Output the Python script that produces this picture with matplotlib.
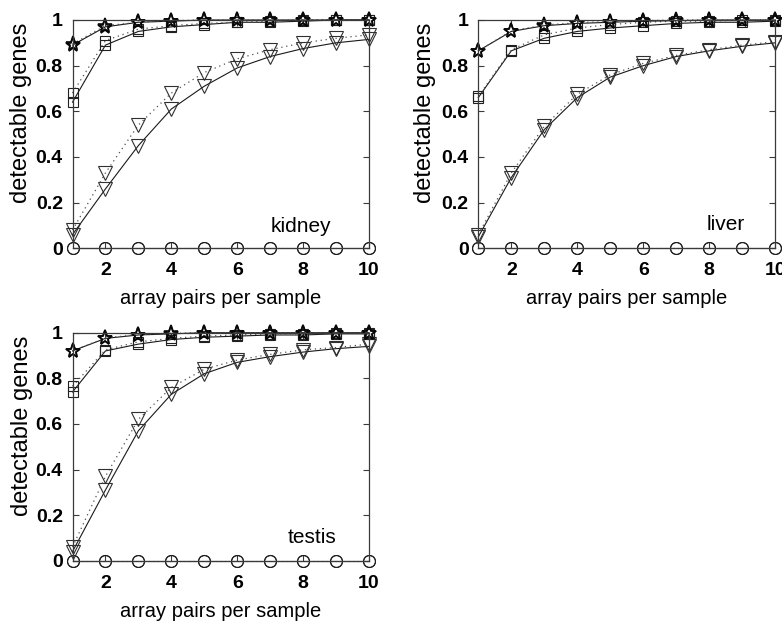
import matplotlib
matplotlib.use("Agg")
import matplotlib.pyplot as plt

plt.rcParams['font.family'] = ['Liberation Sans', 'DejaVu Sans']

x = [1, 2, 3, 4, 5, 6, 7, 8, 9, 10]

kidney_star_solid = [0.89, 0.97, 0.99, 0.995, 1.0, 1.0, 1.0, 1.0, 1.0, 1.0]
kidney_star_dot = [0.895, 0.975, 0.99, 0.997, 1.0, 1.0, 1.0, 1.0, 1.0, 1.0]
kidney_sq_solid = [0.64, 0.89, 0.95, 0.97, 0.98, 0.99, 0.99, 0.995, 1.0, 1.0]
kidney_sq_dot = [0.68, 0.91, 0.96, 0.975, 0.985, 0.99, 0.995, 1.0, 1.0, 1.0]
kidney_tri_solid = [0.06, 0.26, 0.45, 0.61, 0.71, 0.79, 0.84, 0.875, 0.90, 0.915]
kidney_tri_dot = [0.08, 0.33, 0.54, 0.68, 0.77, 0.83, 0.87, 0.90, 0.92, 0.935]

liver_star_solid = [0.865, 0.95, 0.975, 0.985, 0.99, 0.995, 0.997, 1.0, 1.0, 1.0]
liver_star_dot = [0.865, 0.952, 0.978, 0.988, 0.993, 0.997, 1.0, 1.0, 1.0, 1.0]
liver_sq_solid = [0.66, 0.865, 0.92, 0.95, 0.965, 0.975, 0.985, 0.99, 0.99, 0.995]
liver_sq_dot = [0.665, 0.87, 0.935, 0.965, 0.98, 0.99, 0.995, 0.995, 1.0, 1.0]
liver_tri_solid = [0.05, 0.31, 0.52, 0.66, 0.75, 0.80, 0.84, 0.865, 0.885, 0.90]
liver_tri_dot = [0.06, 0.33, 0.535, 0.675, 0.76, 0.81, 0.845, 0.87, 0.89, 0.905]

testis_star_solid = [0.92, 0.975, 0.99, 0.995, 1.0, 1.0, 1.0, 1.0, 1.0, 1.0]
testis_star_dot = [0.92, 0.977, 0.992, 0.997, 1.0, 1.0, 1.0, 1.0, 1.0, 1.0]
testis_sq_solid = [0.74, 0.92, 0.95, 0.97, 0.98, 0.985, 0.99, 0.99, 0.995, 0.995]
testis_sq_dot = [0.765, 0.925, 0.96, 0.975, 0.985, 0.99, 0.995, 0.995, 1.0, 1.0]
testis_tri_solid = [0.04, 0.31, 0.57, 0.73, 0.82, 0.87, 0.895, 0.915, 0.93, 0.94]
testis_tri_dot = [0.06, 0.37, 0.62, 0.76, 0.84, 0.88, 0.905, 0.925, 0.935, 0.95]

zero_solid = [0.0] * 10
zero_dot = [0.0] * 10

panel_names = ["kidney", "liver", "testis"]
panel_label_pos = [(7.0, 0.073), (7.92, 0.08), (7.54, 0.076)]

xticks = [2, 4, 6, 8, 10]
yticks = [0, 0.2, 0.4, 0.6, 0.8, 1]
yticklabels = ["0", "0.2", "0.4", "0.6", "0.8", "1"]

panels = [
    (kidney_star_solid, kidney_star_dot, kidney_sq_solid, kidney_sq_dot, kidney_tri_solid, kidney_tri_dot),
    (liver_star_solid, liver_star_dot, liver_sq_solid, liver_sq_dot, liver_tri_solid, liver_tri_dot),
    (testis_star_solid, testis_star_dot, testis_sq_solid, testis_sq_dot, testis_tri_solid, testis_tri_dot),
]

W, H = 782, 624
fig = plt.figure(figsize=(W / 100, H / 100), dpi=100)
fig.patch.set_facecolor('white')

# axes boxes in pixels: left, top, right, bottom
boxes = [(72.5, 20.0, 369.0, 248.3), (478.3, 20.0, 775.3, 248.3), (72.5, 332.7, 369.0, 560.7)]
ylabel_x = [-0.175, -0.18, -0.171]
ylabel_y = [0.595, 0.595, 0.59]

spine_col = '#3a3a3a'
solid_col = '#1a1a1a'
dot_col = '#505050'

for i, (box, data) in enumerate(zip(boxes, panels)):
    l, t, r, b = box
    ax = fig.add_axes([l / W, 1 - b / H, (r - l) / W, (b - t) / H])
    ss, sd, qs, qd, ts, td = data
    common = dict(markerfacecolor='none', clip_on=False)
    ax.plot(x, zero_solid, '-', color=solid_col, lw=0.8, marker='o', ms=8.6,
            markeredgecolor='#202020', markeredgewidth=0.8, **common)
    ax.plot(x, zero_dot, linestyle=(0, (1, 3)), color=dot_col, lw=0.8, marker='o', ms=8.6,
            markeredgecolor='#202020', markeredgewidth=0.8, **common)
    ax.plot(x, ts, '-', color=solid_col, lw=0.8, marker='v', ms=9.5,
            markeredgecolor='#303030', markeredgewidth=0.8, **common)
    ax.plot(x, td, linestyle=(0, (1, 3)), color=dot_col, lw=0.9, marker='v', ms=9.5,
            markeredgecolor='#303030', markeredgewidth=0.8, **common)
    ax.plot(x, qs, '-', color=solid_col, lw=0.8, marker='s', ms=7.8,
            markeredgecolor='#202020', markeredgewidth=0.8, **common)
    ax.plot(x, qd, linestyle=(0, (1, 3)), color=dot_col, lw=0.9, marker='s', ms=7.8,
            markeredgecolor='#202020', markeredgewidth=0.8, **common)
    ax.plot(x, ss, '-', color=solid_col, lw=0.8, marker='*', ms=11,
            markeredgecolor='#080808', markeredgewidth=1.2, **common)
    ax.plot(x, sd, linestyle=(0, (1, 3)), color=dot_col, lw=0.9, marker='*', ms=11,
            markeredgecolor='#080808', markeredgewidth=1.2, **common)

    ax.set_xlim(1, 10)
    ax.set_ylim(0, 1)
    ax.set_xticks(xticks)
    ax.set_xticklabels([str(v) for v in xticks])
    ax.set_yticks(yticks)
    ax.set_yticklabels(yticklabels)
    ax.tick_params(direction='in', length=4, width=0.8, color=spine_col,
                   top=True, right=True, labelsize=14)
    ax.tick_params(axis='x', pad=10)
    ax.tick_params(axis='y', pad=7)
    for lab in ax.get_xticklabels() + ax.get_yticklabels():
        lab.set_fontweight('bold')
    for sp in ax.spines.values():
        sp.set_color(spine_col)
        sp.set_linewidth(0.9)

    ax.set_xlabel("array pairs per sample", fontsize=14.5)
    ax.xaxis.set_label_coords(0.5, -0.18)
    ax.set_ylabel("detectable genes", fontsize=17)
    ax.yaxis.set_label_coords(ylabel_x[i], ylabel_y[i])
    ax.yaxis.label.set_va('center')

    px, py = panel_label_pos[i]
    ax.text(px, py, panel_names[i], fontsize=15, ha='left', va='baseline')

fig.savefig("out.png", dpi=100, facecolor='white')
